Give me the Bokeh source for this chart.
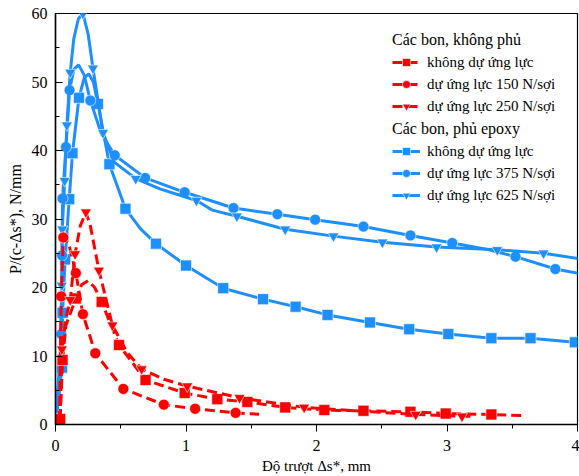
from bokeh.plotting import figure
from bokeh.models import Range1d, Legend, LegendItem, SingleIntervalTicker
from bokeh.embed import file_html
from bokeh.resources import INLINE

# ---------------- data ----------------
# Carbon, epoxy coated (blue, solid)
ep0_x = [0.0, 0.05, 0.054, 0.074, 0.105, 0.13, 0.18, 0.22, 0.254, 0.29, 0.325, 0.413, 0.536, 0.65, 0.77, 1.0, 1.285, 1.59, 1.84, 2.085, 2.41, 2.71, 3.01, 3.34, 3.64, 3.98, 4.05]
ep0_y = [0.3, 8.3, 16.3, 24.1, 32.9, 39.6, 47.7, 50.6, 51.2, 50.0, 46.8, 38.0, 31.5, 28.6, 26.4, 23.2, 19.9, 18.3, 17.2, 16.0, 14.9, 13.9, 13.2, 12.6, 12.6, 12.0, 11.9]
ep0_m = [1, 1, 1, 1, 1, 1, 1, 0, 0, 0, 1, 1, 1, 0, 1, 1, 1, 1, 1, 1, 1, 1, 1, 1, 1, 1, 0]

ep375_x = [0.0, 0.035, 0.044, 0.05, 0.054, 0.08, 0.108, 0.14, 0.177, 0.22, 0.267, 0.35, 0.454, 0.687, 0.99, 1.364, 1.70, 1.99, 2.36, 2.72, 3.04, 3.3, 3.525, 3.83, 4.05]
ep375_y = [0.0, 6.0, 13.2, 24.7, 33.0, 40.5, 48.8, 51.8, 52.5, 51.0, 47.3, 42.5, 39.3, 36.0, 33.9, 31.6, 30.7, 29.9, 28.9, 27.6, 26.5, 25.6, 24.5, 22.7, 21.9]
ep375_m = [0, 0, 1, 1, 1, 1, 1, 0, 0, 0, 1, 0, 1, 1, 1, 1, 1, 1, 1, 1, 1, 0, 1, 1, 0]

ep625_x = [0.0, 0.035, 0.048, 0.052, 0.07, 0.087, 0.113, 0.14, 0.175, 0.21, 0.25, 0.287, 0.364, 0.45, 0.615, 0.8, 1.08, 1.2, 1.39, 1.76, 2.13, 2.505, 2.92, 3.385, 3.74, 4.05]
ep625_y = [0.0, 10.0, 20.3, 28.5, 35.6, 43.7, 51.4, 56.3, 59.2, 60.0, 57.0, 52.0, 42.6, 38.3, 35.9, 34.4, 32.7, 31.3, 30.4, 28.5, 27.5, 26.6, 25.9, 25.5, 25.0, 24.1]
ep625_m = [0, 0, 1, 1, 1, 1, 1, 0, 0, 1, 0, 1, 1, 0, 1, 0, 1, 0, 1, 1, 1, 1, 1, 1, 1, 0]

# Carbon, uncoated (red, dashed)
un0_x = [0.036, 0.054, 0.08, 0.156, 0.2, 0.25, 0.3, 0.354, 0.487, 0.69, 0.99, 1.24, 1.47, 1.76, 2.06, 2.36, 2.72, 2.99, 3.34, 3.6]
un0_y = [0.8, 9.4, 14.5, 18.4, 20.4, 21.0, 20.0, 17.9, 11.6, 6.5, 4.6, 3.7, 3.3, 2.5, 2.1, 2.0, 1.85, 1.6, 1.46, 1.3]
un0_m = [1, 1, 0, 1, 0, 0, 0, 1, 1, 1, 1, 1, 1, 1, 1, 1, 1, 1, 1, 0]

un150_x = [0.03, 0.038, 0.044, 0.06, 0.1, 0.156, 0.21, 0.305, 0.52, 0.83, 1.07, 1.38, 1.56]
un150_y = [0.5, 10.0, 18.7, 27.3, 26.5, 22.1, 16.1, 10.4, 5.2, 2.9, 2.3, 1.7, 1.5]
un150_m = [0, 0, 1, 1, 0, 1, 1, 1, 1, 1, 1, 1, 0]

un250_x = [0.035, 0.049, 0.08, 0.113, 0.15, 0.19, 0.233, 0.267, 0.333, 0.436, 0.55, 0.66, 0.83, 1.01, 1.41, 1.905, 2.3, 2.76, 3.115, 3.2]
un250_y = [0.5, 11.0, 15.5, 18.2, 24.9, 29.0, 31.0, 29.0, 22.5, 14.5, 10.5, 8.1, 6.6, 5.6, 3.9, 2.5, 2.0, 1.46, 1.2, 1.2]
un250_m = [0, 1, 0, 1, 1, 0, 1, 0, 1, 1, 0, 1, 0, 1, 1, 1, 0, 1, 1, 0]

legend1_title = "Các bon, không phủ"
legend1_labels = ["không dự ứng lực", "dự ứng lực 150 N/sợi", "dự ứng lực 250 N/sợi"]
legend2_title = "Các bon, phủ epoxy"
legend2_labels = ["không dự ứng lực", "dự ứng lực 375 N/sợi", "dự ứng lực 625 N/sợi"]

x_label = "Độ trượt Δs*, mm"
y_label = "P/(c-Δs*), N/mm"

# ---------------- styling ----------------
BLUE = "#1E8FFF"
RED = "#FF0000"
FONT = "Liberation Serif, Times New Roman, serif"

p = figure(width=579, height=476, x_range=Range1d(0, 4), y_range=Range1d(0, 60),
           output_backend="svg", toolbar_location=None,
           min_border_left=55, min_border_right=2, min_border_top=13, min_border_bottom=51)
p.background_fill_color = "white"
p.border_fill_color = "white"
p.outline_line_color = "black"
p.outline_line_width = 1.2
p.xgrid.visible = False
p.ygrid.visible = False

p.xaxis.ticker = SingleIntervalTicker(interval=1, num_minor_ticks=2)
p.yaxis.ticker = SingleIntervalTicker(interval=10, num_minor_ticks=2)
for ax in (p.xaxis[0], p.yaxis[0]):
    ax.axis_line_color = "black"
    ax.axis_line_width = 1.5
    ax.major_tick_line_color = "black"
    ax.minor_tick_line_color = "black"
    ax.major_tick_line_width = 1
    ax.minor_tick_line_width = 1
    ax.major_label_text_font = FONT
    ax.major_label_text_font_size = "16px"
    ax.major_label_text_color = "black"
    ax.axis_label_text_font = FONT
    ax.axis_label_text_font_style = "normal"
    ax.axis_label_text_color = "black"

p.xaxis.axis_label_text_font_size = "15px"
p.yaxis.axis_label_text_font_size = "16px"
p.xaxis.major_tick_out = 7
p.xaxis.major_tick_in = 0
p.xaxis.minor_tick_out = 4
p.xaxis.minor_tick_in = 0
p.xaxis.major_label_standoff = 8
p.xaxis.axis_label_standoff = 4
p.yaxis.major_tick_in = 7
p.yaxis.major_tick_out = 0
p.yaxis.minor_tick_in = 4
p.yaxis.minor_tick_out = 0
p.yaxis.major_label_standoff = 8
p.yaxis.axis_label_standoff = 5
p.xaxis.axis_label = x_label
p.yaxis.axis_label = y_label


def draw(xs, ys, mask, color, marker, dash, size):
    ln = p.line(xs, ys, line_color=color, line_width=3, line_dash=dash)
    mx = [x for x, m in zip(xs, mask) if m]
    my = [y for y, m in zip(ys, mask) if m]
    sc = p.scatter(mx, my, marker=marker, size=size, fill_color=color,
                   line_color="white", line_width=0.6)
    return [ln, sc]


r_ep0 = draw(ep0_x, ep0_y, ep0_m, BLUE, "square", "solid", 11)
r_ep375 = draw(ep375_x, ep375_y, ep375_m, BLUE, "circle", "solid", 11)
r_ep625 = draw(ep625_x, ep625_y, ep625_m, BLUE, "inverted_triangle", "solid", 11)
r_un0 = draw(un0_x, un0_y, un0_m, RED, "square", "10 5", 11)
r_un150 = draw(un150_x, un150_y, un150_m, RED, "circle", "10 5", 11)
r_un250 = draw(un250_x, un250_y, un250_m, RED, "inverted_triangle", "10 5", 11)


def make_legend(title, labels, renderers, loc):
    leg = Legend(items=[LegendItem(label=l, renderers=r) for l, r in zip(labels, renderers)],
                 title=title, location=loc)
    leg.title_text_font = FONT
    leg.title_text_font_size = "16px"
    leg.title_text_font_style = "normal"
    leg.title_text_color = "black"
    leg.title_standoff = 3
    leg.label_text_font = FONT
    leg.label_text_font_size = "15px"
    leg.label_text_color = "black"
    leg.background_fill_alpha = 0
    leg.border_line_alpha = 0
    leg.padding = 0
    leg.margin = 0
    leg.spacing = 2
    leg.label_height = 20
    leg.glyph_height = 20
    leg.glyph_width = 28
    leg.label_standoff = 7
    p.add_layout(leg, "center")
    return leg


make_legend(legend1_title, legend1_labels, [r_un0, r_un150, r_un250], (337, 308))
make_legend(legend2_title, legend2_labels, [r_ep0, r_ep375, r_ep625], (337, 219))

open("out.html", "w").write(file_html(p, INLINE))
